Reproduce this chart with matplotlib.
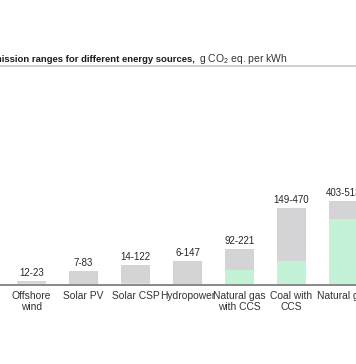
import matplotlib
matplotlib.use("Agg")
import matplotlib.pyplot as plt
from matplotlib.lines import Line2D

plt.rcParams['font.family'] = ['Liberation Sans', 'DejaVu Sans']
plt.rcParams['mathtext.fontset'] = 'custom'
plt.rcParams['mathtext.rm'] = 'Liberation Sans'

# categorias y rangos de emision (min - max), g CO2 eq. por kWh
sources = ['Offshore\nwind', 'Solar PV', 'Solar CSP', 'Hydropower',
           'Natural gas\nwith CCS', 'Coal with\nCCS', 'Natural gas']
low = [12, 7, 14, 6, 92, 149, 403]
high = [23, 83, 122, 147, 221, 470, 513]

gray = '#d4d4d6'
green = '#c4f2d6'

fig = plt.figure(figsize=(3.56, 3.64), dpi=100)
# el eje se sale del lienzo a la derecha, como en el recorte original
ax = fig.add_axes([0, 79 / 364, 1, 97.8 / 364])

x = range(len(sources))
ax.bar(x, high, width=0.56, color=gray, zorder=1)
ax.bar(x, low, width=0.56, color=green, zorder=2)

for i in x:
    ax.annotate(f'{low[i]}-{high[i]}', (i, high[i]), xytext=(0, 2.5),
                textcoords='offset points', ha='center', va='bottom',
                fontsize=7.0, color='#262626')

ax.set_xlim(-31.5 / 52, -31.5 / 52 + 356 / 52)
ax.set_ylim(0, 600)
ax.set_xticks(list(x))
ax.set_xticklabels(sources, fontsize=7.4, color='#333333', linespacing=1.15)
ax.tick_params(axis='x', length=0, pad=4.5)
ax.set_yticks([])
for s in ['top', 'left', 'right']:
    ax.spines[s].set_visible(False)
ax.spines['bottom'].set_color('#808080')
ax.spines['bottom'].set_linewidth(1.3)

# titulo: parte en negrita y unidad en normal
fig.text(195 / 356, 1 - 62 / 364, 'emission ranges for different energy sources,',
         ha='right', va='baseline', fontsize=6.8, fontweight='bold', color='#1a1a1a')
fig.text(199 / 356, 1 - 62 / 364, r'g CO$_2$ eq. per kWh',
         ha='left', va='baseline', fontsize=7.5, color='#333333')
fig.add_artist(Line2D([0, 1], [1 - 66 / 364, 1 - 66 / 364], color='#c8c8c8', lw=1.2))

fig.savefig('out.png', dpi=100)
